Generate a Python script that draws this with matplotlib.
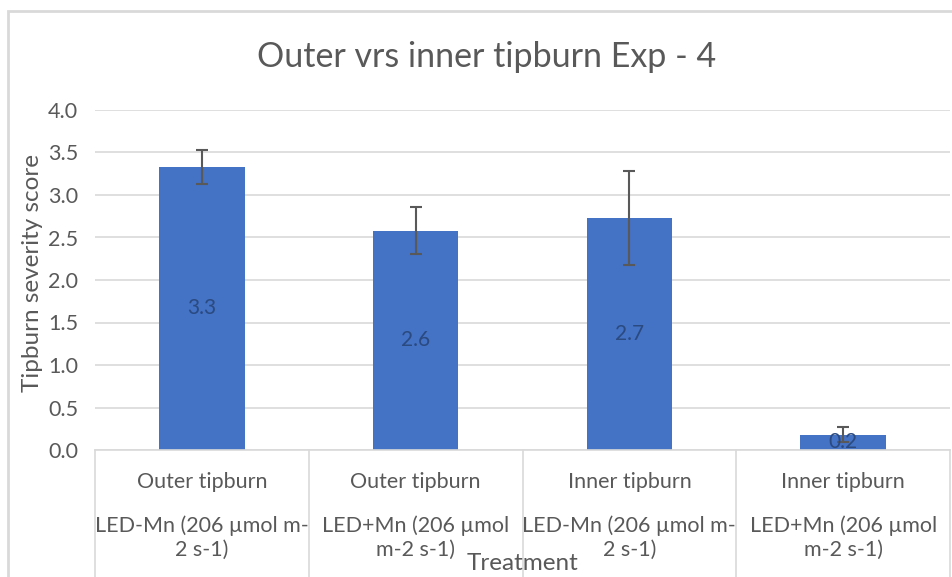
import matplotlib
matplotlib.use("Agg")
import matplotlib.pyplot as plt
from matplotlib.patches import Rectangle

# data
groups = ["Outer tipburn", "Outer tipburn", "Inner tipburn", "Inner tipburn"]
treatments = ["LED-Mn (206 \u00b5mol m-\n2 s-1)", "LED+Mn (206 \u00b5mol\nm-2 s-1)",
              "LED-Mn (206 \u00b5mol m-\n2 s-1)", "LED+Mn (206 \u00b5mol\nm-2 s-1)"]
means = [3.33, 2.58, 2.73, 0.18]
errors = [0.20, 0.28, 0.55, 0.09]
value_labels = ["3.3", "2.6", "2.7", "0.2"]

plt.rcParams['font.family'] = ['Lato', 'DejaVu Sans']
grey = "#595959"
line_grey = "#D9D9D9"

W, H = 952, 577
fig = plt.figure(figsize=(W / 100, H / 100), dpi=100)
ax = fig.add_axes([95 / W, (H - 450) / H, (950 - 95) / W, (450 - 110) / H])

x = list(range(len(means)))
ax.bar(x, means, width=0.4, color="#4472C4", zorder=2)
ax.errorbar(x, means, yerr=errors, fmt="none", ecolor=grey, elinewidth=1.5,
            capsize=4, capthick=1.5, zorder=3)
for xi, m, lab in zip(x, means, value_labels):
    ax.text(xi, m / 2, lab, ha="center", va="center", fontsize=15,
            color="#2A4A80", zorder=4)

ax.set_xlim(-0.5, len(means) - 0.5)
ax.set_ylim(0, 4.0)
ax.set_yticks([i * 0.5 for i in range(9)])
ax.set_yticklabels([f"{i * 0.5:.1f}" for i in range(9)])
ax.tick_params(axis="y", length=0, labelsize=15.5, labelcolor=grey, pad=12)
ax.set_xticks([])
ax.grid(axis="y", color=line_grey, linewidth=1.2, zorder=0)
for s in ["left", "right", "top"]:
    ax.spines[s].set_visible(False)
ax.spines["bottom"].set_color(line_grey)
ax.spines["bottom"].set_linewidth(1.2)

ax.set_ylabel("Tipburn severity score", fontsize=17.5, color=grey, va="center")
ax.yaxis.set_label_coords(-(95 - 33) / (950 - 95), (450 - 273) / (450 - 110))

# multi-level category axis
tr = ax.get_xaxis_transform()
hpx = 450 - 110
for b in [i - 0.5 for i in range(len(means) + 1)]:
    ax.plot([b, b], [0, -(H - 450) / hpx], transform=tr, color=line_grey,
            linewidth=1.2, clip_on=False)
for xi, g, t in zip(x, groups, treatments):
    ax.text(xi, -(482 - 450) / hpx, g, transform=tr, ha="center", va="center",
            fontsize=15.5, color=grey)
    ax.text(xi, -(538 - 450) / hpx, t, transform=tr, ha="center", va="center",
            fontsize=15.5, color=grey, linespacing=1.25)
ax.text(1.5, -(563 - 450) / hpx, "Treatment", transform=tr, ha="center",
        va="center", fontsize=17.5, color=grey)

fig.text(487 / W, 1 - 57 / H, "Outer vrs inner tipburn Exp - 4", ha="center",
         va="center", fontsize=24.5, color=grey)

fig.patches.append(Rectangle((8 / W, -0.1), 2, 1 - 11 / H + 0.1,
                             transform=fig.transFigure, fill=False,
                             edgecolor=line_grey, linewidth=2))

fig.savefig("out.png", dpi=100)
